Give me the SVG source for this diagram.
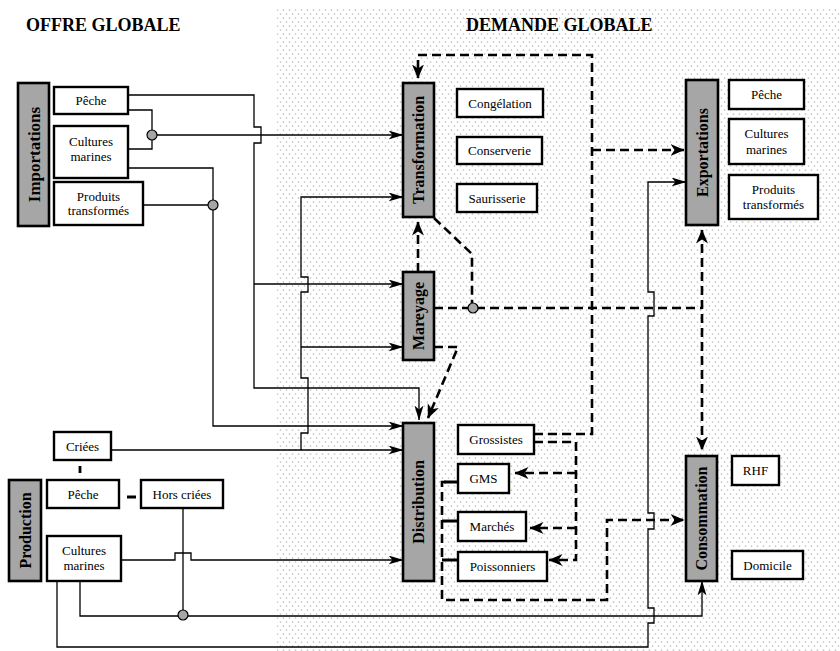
<svg xmlns="http://www.w3.org/2000/svg" width="840" height="651" viewBox="0 0 840 651">
<defs>
<pattern id="stip" width="6" height="8" patternUnits="userSpaceOnUse">
<circle cx="1.5" cy="2" r="0.85" fill="#bdbdbd"/>
<circle cx="4.5" cy="6" r="0.85" fill="#bdbdbd"/>
</pattern>
<marker id="as" markerUnits="userSpaceOnUse" markerWidth="16" markerHeight="10" refX="14.5" refY="4.5" orient="auto">
<path d="M0,0 L15,4.5 L0,9 L4,4.5 z" fill="#000"/>
</marker>
<marker id="ad" markerUnits="userSpaceOnUse" markerWidth="16" markerHeight="13" refX="13.5" refY="6" orient="auto-start-reverse">
<path d="M0,0 L14,6 L0,12 L4,6 z" fill="#000"/>
</marker>
<style>
.node rect{fill:#a6a6a6;stroke:#000;stroke-width:2.6}
.box rect{fill:#fff;stroke:#000;stroke-width:2.4}
text{font-family:'Liberation Serif','Times New Roman','DejaVu Serif',serif}
.nt{font-weight:bold;font-size:16px;text-anchor:middle}
.bt{font-size:13px;text-anchor:middle}
.tt{font-weight:bold;font-size:18px}
.c{fill:none;stroke:#000;stroke-width:1.3}
.d{fill:none;stroke:#000;stroke-width:2.6;stroke-dasharray:9 5}
.s{fill:none;stroke:#000;stroke-width:2.8}
.j{fill:#a6a6a6;stroke:#000;stroke-width:1.2}
</style>
</defs>
<rect x="0" y="0" width="840" height="651" fill="#fff"/>
<rect x="277" y="8" width="563" height="643" fill="url(#stip)"/>
<text class="tt" x="26" y="31">OFFRE GLOBALE</text>
<text class="tt" x="466" y="31">DEMANDE GLOBALE</text>

<g id="connectors">
<path class="c" d="M128,95 H254 V127 H261 V143 H254 V388 H419 V420" marker-end="url(#as)"/>
<path class="c" d="M254,284 H403" marker-end="url(#as)"/>
<path class="c" d="M128,110 H152 V149 H128"/>
<path class="c" d="M152,135 H403" marker-end="url(#as)"/>
<path class="c" d="M128,168 H213 V426 H403" marker-end="url(#as)"/>
<path class="c" d="M143,205 H213"/>
<path class="c" d="M301,450 V433 H308 V378 H301 V292 H308 V277 H301 V197 H403" marker-end="url(#as)"/>
<path class="c" d="M301,347 H403" marker-end="url(#as)"/>
<path class="c" d="M111,450 H403" marker-end="url(#as)"/>
<path class="c" d="M121,560 H175 V553 H191 V560 H403" marker-end="url(#as)"/>
<path class="c" d="M183,508 V615"/>
<path class="c" d="M80,581 V616 H702 V581" marker-end="url(#as)"/>
<path class="c" d="M57,581 V647 H648 V623 H654 V608 H648 V529 H654 V513 H648 V316 H654 V292 H648 V182 H686" marker-end="url(#as)"/>

<path class="d" d="M534,434 H592 V55 H418 V78" marker-end="url(#ad)"/>
<path class="d" d="M592,150 H684" marker-end="url(#ad)"/>
<path class="d" d="M418,272 V222" marker-end="url(#ad)"/>
<path class="d" d="M434,218 L472,254 V303"/>
<path class="d" d="M434,308 H702"/>
<path class="d" d="M702,230 V450" marker-start="url(#ad)" marker-end="url(#ad)"/>
<path class="d" d="M434,347 H458 L428,418" marker-end="url(#ad)"/>
<path class="d" d="M534,442 H576 V560 H549" marker-end="url(#ad)"/>
<path class="d" d="M576,473 H515" marker-end="url(#ad)"/>
<path class="d" d="M576,528 H530" marker-end="url(#ad)"/>
<path class="d" d="M446,482 H442 V600 H607 V520 H684" marker-end="url(#ad)"/>
<path class="s" d="M444,482 H458 M442,521 H458 M442,560 H458"/>
<path class="s" d="M80,466 V473 M127,497 H136"/>

<circle class="j" cx="152" cy="135" r="5"/>
<circle class="j" cx="213" cy="205" r="5"/>
<circle class="j" cx="183" cy="615" r="5"/>
<circle class="j" cx="473" cy="308" r="5"/>
</g>

<g id="importations" class="node"><rect x="18" y="83" width="31" height="143"/><text class="nt" style="font-size:17px" transform="translate(33.5,154.5) rotate(-90)" y="6">Importations</text></g>
<g id="imp-peche" class="box"><rect x="54" y="87" width="74" height="27"/><text class="bt" x="91" y="105">Pêche</text></g>
<g id="imp-cultures" class="box"><rect x="54" y="126" width="74" height="52"/><text class="bt" x="91" y="146">Cultures</text><text class="bt" x="91" y="161">marines</text></g>
<g id="imp-produits" class="box"><rect x="54" y="182" width="89" height="43"/><text class="bt" x="98.5" y="201">Produits</text><text class="bt" x="98.5" y="215">transformés</text></g>

<g id="transformation" class="node"><rect x="403" y="83" width="31" height="134"/><text class="nt" transform="translate(418.5,150) rotate(-90)" y="5.5">Transformation</text></g>
<g id="congelation" class="box"><rect x="457" y="89" width="86" height="28"/><text class="bt" x="500" y="107.5">Congélation</text></g>
<g id="conserverie" class="box"><rect x="457" y="137" width="85" height="27"/><text class="bt" x="499.5" y="155">Conserverie</text></g>
<g id="saurisserie" class="box"><rect x="457" y="184" width="80" height="28"/><text class="bt" x="497" y="202.5">Saurisserie</text></g>

<g id="mareyage" class="node"><rect x="403" y="272" width="31" height="88"/><text class="nt" transform="translate(418.5,316) rotate(-90)" y="5.5">Mareyage</text></g>

<g id="distribution" class="node"><rect x="403" y="423" width="31" height="158"/><text class="nt" transform="translate(418.5,502) rotate(-90)" y="5.5">Distribution</text></g>
<g id="grossistes" class="box"><rect x="458" y="425" width="76" height="29"/><text class="bt" x="496" y="444">Grossistes</text></g>
<g id="gms" class="box"><rect x="458" y="464" width="51" height="29"/><text class="bt" x="483.5" y="483">GMS</text></g>
<g id="marches" class="box"><rect x="458" y="512" width="68" height="29"/><text class="bt" x="492" y="531">Marchés</text></g>
<g id="poissonniers" class="box"><rect x="458" y="552" width="89" height="29"/><text class="bt" x="502.5" y="571">Poissonniers</text></g>

<g id="exportations" class="node"><rect x="686" y="80" width="32" height="145"/><text class="nt" transform="translate(702,152.5) rotate(-90)" y="5.5">Exportations</text></g>
<g id="exp-peche" class="box"><rect x="729" y="80" width="75" height="29"/><text class="bt" x="766.5" y="99">Pêche</text></g>
<g id="exp-cultures" class="box"><rect x="729" y="119" width="75" height="45"/><text class="bt" x="766.5" y="138">Cultures</text><text class="bt" x="766.5" y="154">marines</text></g>
<g id="exp-produits" class="box"><rect x="729" y="175" width="89" height="44"/><text class="bt" x="773.5" y="194">Produits</text><text class="bt" x="773.5" y="209">transformés</text></g>

<g id="consommation" class="node"><rect x="686" y="456" width="31" height="125"/><text class="nt" transform="translate(701.5,518.5) rotate(-90)" y="5.5">Consommation</text></g>
<g id="rhf" class="box"><rect x="732" y="456" width="47" height="29"/><text class="bt" x="755.5" y="475">RHF</text></g>
<g id="domicile" class="box"><rect x="732" y="551" width="71" height="28"/><text class="bt" x="767.5" y="569.5">Domicile</text></g>

<g id="production" class="node"><rect x="9" y="480" width="32" height="101"/><text class="nt" transform="translate(25,530.5) rotate(-90)" y="5.5">Production</text></g>
<g id="criees" class="box"><rect x="54" y="432" width="57" height="28"/><text class="bt" x="82.5" y="450.5">Criées</text></g>
<g id="prod-peche" class="box"><rect x="47" y="480" width="72" height="28"/><text class="bt" x="83" y="498.5">Pêche</text></g>
<g id="hors-criees" class="box"><rect x="141" y="480" width="82" height="28"/><text class="bt" x="182" y="498.5">Hors criées</text></g>
<g id="prod-cultures" class="box"><rect x="47" y="536" width="74" height="45"/><text class="bt" x="84" y="555">Cultures</text><text class="bt" x="84" y="570">marines</text></g>
</svg>
